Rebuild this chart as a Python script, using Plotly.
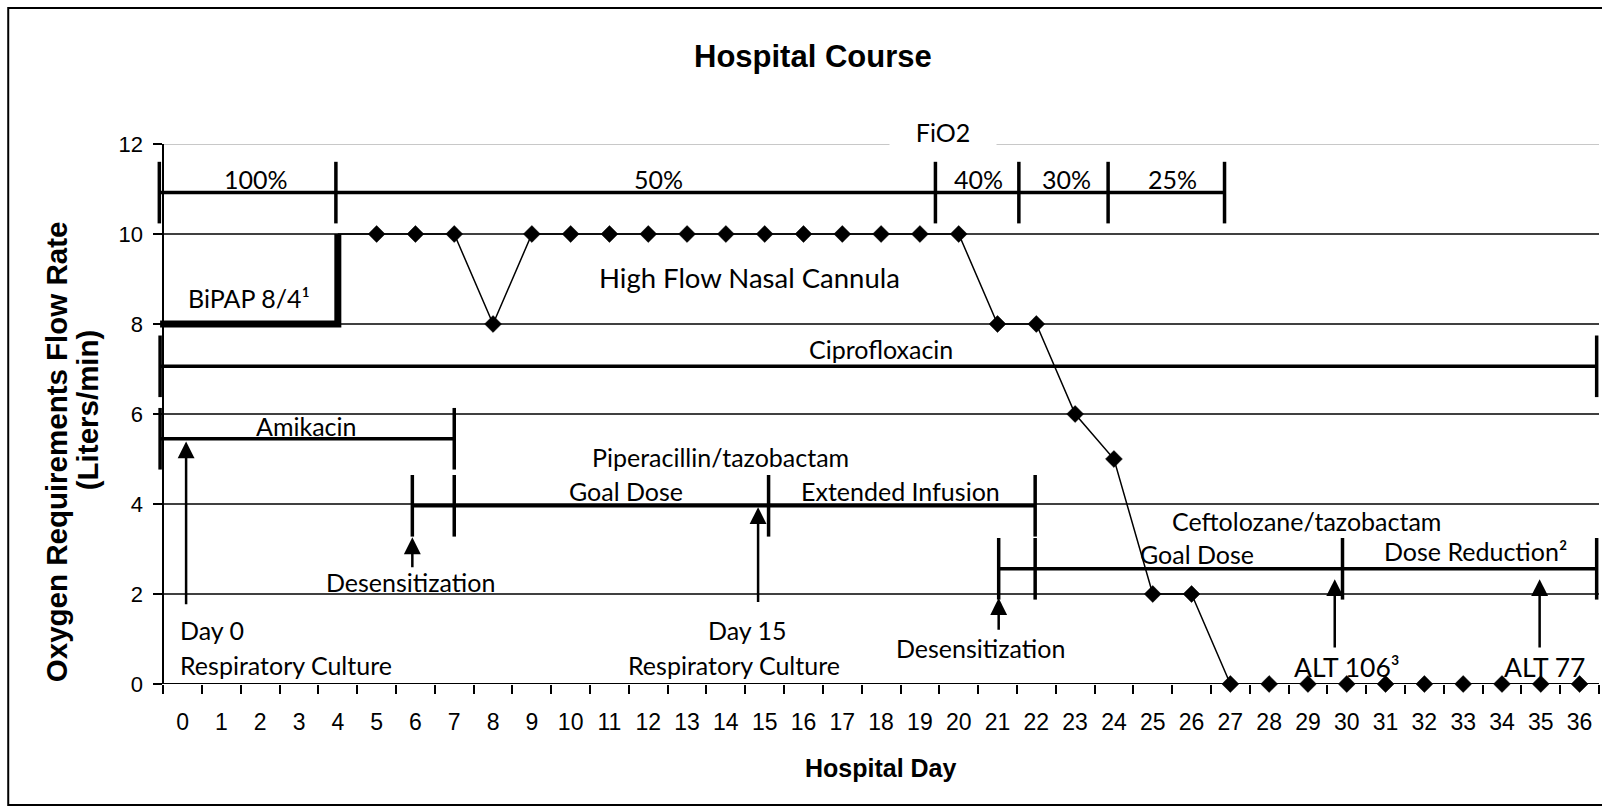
import plotly.graph_objects as go

# ---------------- data ----------------
days = list(range(0, 37))
day_labels = [str(d) for d in days]
y_ticks = [0, 2, 4, 6, 8, 10, 12]

# oxygen flow rate (L/min), hospital days 4..36
flow_days = list(range(4, 37))
flow_values = [10, 10, 10, 10, 8, 10, 10, 10, 10, 10, 10, 10, 10, 10, 10, 10, 10,
               8, 8, 6, 5, 2, 2, 0, 0, 0, 0, 0, 0, 0, 0, 0, 0]

# BiPAP period
bipap_days = [-0.58, 4, 4]
bipap_flow = [8, 8, 10]

# FiO2 periods
fio2_bounds = [-0.6, 3.95, 19.4, 21.55, 23.85, 26.85]
fio2_labels = ["100%", "50%", "40%", "30%", "25%"]
fio2_label_days = [1.89, 12.26, 20.52, 22.78, 25.52]
fio2_level = 10.92

# antibiotic courses (segment boundaries in hospital days)
cipro_bounds = [-0.58, 36.44]
cipro_level = 7.06
amikacin_bounds = [-0.58, 7.0]
amikacin_level = 5.45
pip_bounds = [5.92, 7.0, 15.1, 21.97]
pip_level = 3.96
ceft_bounds = [21.03, 21.97, 29.89, 36.44]
ceft_level = 2.56

# event arrows
arrow_days = [0.09, 5.92, 14.83, 21.03, 29.69, 34.97]
arrow_tips = [5.39, 3.26, 3.93, 1.91, 2.33, 2.33]
arrow_tails = [1.74, 2.56, 1.79, 1.17, 0.78, 0.78]

# text labels
label_texts = ["BiPAP 8/4¹", "High Flow Nasal Cannula", "Ciprofloxacin", "Amikacin",
               "Piperacillin/tazobactam", "Goal Dose", "Extended Infusion",
               "Ceftolozane/tazobactam", "Goal Dose", "Dose Reduction²",
               "Desensitization", "Desensitization", "Day 0", "Respiratory Culture",
               "Day 15", "Respiratory Culture", "ALT 106³", "ALT 77"]
label_days = [1.72, 14.6, 17.99, 3.17, 13.86, 11.43, 18.5, 28.95, 26.15, 33.32,
              5.87, 20.55, 0.75, 2.67, 14.55, 14.22, 30.0, 35.1]
label_flow = [8.57, 9.04, 7.44, 5.74, 5.04, 4.30, 4.28, 3.63, 2.89, 2.96,
              2.26, 0.81, 1.19, 0.43, 1.19, 0.43, 0.38, 0.38]

title_text = "Hospital Course"
x_title = "Hospital Day"
y_title_1 = "Oxygen Requirements Flow Rate"
y_title_2 = "(Liters/min)"
fio2_title = "FiO2"
fio2_title_day = 19.6
fio2_title_flow = 12.27

# ---------------- styling / geometry ----------------
LABEL_FAMILY = "Lato, Carlito, 'Open Sans', sans-serif"
LABEL_SIZE = 25
LABEL_SIZE_OVERRIDES = {"High Flow Nasal Cannula": 27.5, "ALT 106³": 26.5, "ALT 77": 26.5}
LABEL_FONT = dict(family=LABEL_FAMILY, size=LABEL_SIZE, color="black")
ARIAL = "Liberation Sans, Arial, sans-serif"
CAP_SIZE = 44          # line-ns marker size (~62 px tall cap)
BAR_W = 3.5
AXIS_DAY = -0.5        # where the y axis sits
X_RANGE = [-0.66, 36.5]
Y_RANGE = [0, 12]
W, H = 1602, 808
AXIS_PX, RIGHT_PX, PT, PB = 163, 1599, 144, 684
DAY_W = (RIGHT_PX - AXIS_PX) / (X_RANGE[1] - AXIS_DAY)
PL = AXIS_PX - (AXIS_DAY - X_RANGE[0]) * DAY_W
PW = RIGHT_PX - PL
PH = PB - PT


def px(xp):
    return (xp - PL) / PW


def py(yp):
    return (PB - yp) / PH


fig = go.Figure()


def bar_with_caps(bounds, level, name):
    fig.add_trace(go.Scatter(x=[bounds[0], bounds[-1]], y=[level, level], mode="lines",
                             line=dict(color="black", width=BAR_W), hoverinfo="skip",
                             showlegend=False, name=name))
    fig.add_trace(go.Scatter(x=bounds, y=[level] * len(bounds), mode="markers",
                             marker=dict(symbol="line-ns", size=CAP_SIZE, opacity=1,
                                         line=dict(color="black", width=BAR_W)),
                             cliponaxis=False, hoverinfo="skip", showlegend=False))


# gridlines (drawn below traces)
shapes = []
for v in y_ticks[1:]:
    top = v == y_ticks[-1]
    shapes.append(dict(type="line", xref="x", yref="y", x0=AXIS_DAY, x1=X_RANGE[1], y0=v, y1=v,
                       line=dict(color="#c8c8c8" if top else "black", width=2 if top else 1.3),
                       layer="below"))
# outer frame
shapes.append(dict(type="rect", xref="paper", yref="paper",
                   x0=px(8), x1=px(1700), y0=py(805), y1=py(8),
                   line=dict(color="black", width=2), layer="below"))

# flow series
fig.add_trace(go.Scatter(x=flow_days, y=flow_values, mode="lines+markers",
                         line=dict(color="black", width=1.5), cliponaxis=False,
                         marker=dict(symbol="diamond", opacity=1,
                                     size=[0 if d == bipap_days[-1] else 13 for d in flow_days],
                                     color="black", line=dict(color="black", width=0.5)),
                         showlegend=False))
# BiPAP
fig.add_trace(go.Scatter(x=bipap_days, y=bipap_flow, mode="lines",
                         line=dict(color="black", width=7), showlegend=False))

bar_with_caps(fio2_bounds, fio2_level, "FiO2")
bar_with_caps(cipro_bounds, cipro_level, "Ciprofloxacin")
bar_with_caps(amikacin_bounds, amikacin_level, "Amikacin")
bar_with_caps(pip_bounds, pip_level, "Piperacillin/tazobactam")
bar_with_caps(ceft_bounds, ceft_level, "Ceftolozane/tazobactam")

annotations = []
for t, x, y in zip(label_texts, label_days, label_flow):
    annotations.append(dict(x=x, y=y, xref="x", yref="y", text=t, showarrow=False,
                            font=dict(family=LABEL_FAMILY, color="black",
                                      size=LABEL_SIZE_OVERRIDES.get(t, LABEL_SIZE)),
                            xanchor="center", yanchor="middle"))
for t, x in zip(fio2_labels, fio2_label_days):
    annotations.append(dict(x=x, y=fio2_level + 0.3, xref="x", yref="y", text=t, showarrow=False,
                            font=LABEL_FONT, xanchor="center", yanchor="middle"))
annotations.append(dict(x=fio2_title_day, y=fio2_title_flow / Y_RANGE[1], xref="x", yref="paper",
                        text=fio2_title, showarrow=False, font=LABEL_FONT, bgcolor="white",
                        width=104, xanchor="center", yanchor="middle"))
for x, tip, tail in zip(arrow_days, arrow_tips, arrow_tails):
    annotations.append(dict(x=x, y=tip, ax=x, ay=tail, xref="x", yref="y", axref="x", ayref="y",
                            text="", showarrow=True, arrowhead=2, arrowsize=1.35, arrowwidth=2.5,
                            arrowcolor="black", standoff=0))
# titles
annotations.append(dict(x=px(812.8), y=py(56), xref="paper", yref="paper",
                        text="<b>" + title_text + "</b>", showarrow=False,
                        font=dict(family=ARIAL, size=31, color="black"),
                        xanchor="center", yanchor="middle"))
annotations.append(dict(x=px(881), y=py(768), xref="paper", yref="paper",
                        text="<b>" + x_title + "</b>", showarrow=False,
                        font=dict(family=ARIAL, size=25, color="black"),
                        xanchor="center", yanchor="middle"))
annotations.append(dict(x=px(56), y=py(452), xref="paper", yref="paper",
                        text="<b>" + y_title_1 + "</b>", showarrow=False, textangle=-90,
                        font=dict(family=ARIAL, size=29.5, color="black"),
                        xanchor="center", yanchor="middle"))
annotations.append(dict(x=px(87), y=py(410), xref="paper", yref="paper",
                        text="<b>" + y_title_2 + "</b>", showarrow=False, textangle=-90,
                        font=dict(family=ARIAL, size=29.5, color="black"),
                        xanchor="center", yanchor="middle"))

fig.update_layout(
    width=W, height=H,
    margin=dict(l=PL, r=W - RIGHT_PX, t=PT, b=H - PB, pad=0),
    paper_bgcolor="white", plot_bgcolor="white",
    shapes=shapes, annotations=annotations, showlegend=False,
    xaxis=dict(range=X_RANGE, tickmode="array", tickvals=days, ticktext=day_labels,
               ticks="outside", ticklen=9, tickcolor="rgba(0,0,0,0)",
               ticklabelstandoff=8,
               minor=dict(tickmode="array", tickvals=[d - 0.5 for d in days] + [days[-1] + 0.5],
                          ticks="outside", ticklen=9, tickwidth=1.5, tickcolor="black", showgrid=False),
               showline=False, showgrid=False, zeroline=False,
               tickfont=dict(family=ARIAL, size=23, color="black")),
    yaxis=dict(range=Y_RANGE, tickmode="array", tickvals=y_ticks, ticks="outside", ticklen=9,
               tickwidth=1.5, tickcolor="black", showline=True, linecolor="black", linewidth=1.5,
               showgrid=False, zeroline=False, ticklabelstandoff=6,
               anchor="free", position=(AXIS_DAY - X_RANGE[0]) / (X_RANGE[1] - X_RANGE[0]),
               tickfont=dict(family=ARIAL, size=22, color="black")),
)
# x axis baseline drawn from the y axis to the right end
fig.add_shape(type="line", xref="x", yref="y", x0=AXIS_DAY, x1=X_RANGE[1], y0=Y_RANGE[0], y1=Y_RANGE[0],
              line=dict(color="black", width=2), layer="above")

fig.write_html("out.html", config={"displayModeBar": False},
               post_script="document.body.style.margin='0';")
